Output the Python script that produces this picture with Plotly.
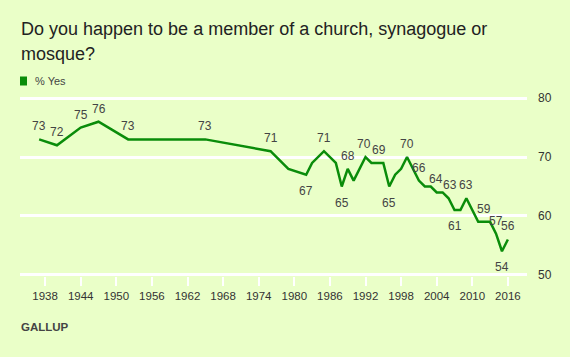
import plotly.graph_objects as go

years = [1937, 1940, 1944, 1947, 1952, 1965, 1976, 1979, 1982, 1983, 1985, 1987,
         1988, 1989, 1990, 1992, 1993, 1994, 1995, 1996, 1997, 1998, 1999, 2001,
         2002, 2003, 2004, 2005, 2006, 2007, 2008, 2009, 2011, 2012, 2013, 2014,
         2015, 2016]
values = [73, 72, 75, 76, 73, 73, 71, 68, 67, 69, 71, 69,
          65, 68, 66, 70, 69, 69, 69, 65, 67, 68, 70, 66,
          65, 65, 64, 64, 63, 61, 61, 63, 59, 59, 59, 57,
          54, 56]
# which points carry a value label, and whether it sits above or below the line
labeled = {1937: "above", 1940: "above", 1944: "above", 1947: "above",
           1952: "above", 1965: "above", 1976: "above", 1982: "below",
           1985: "above", 1988: "below", 1989: "above", 1992: "above",
           1994: "above", 1996: "below", 1999: "above", 2001: "above",
           2004: "above", 2006: "above", 2007: "below", 2009: "above",
           2012: "above", 2014: "above", 2015: "below", 2016: "above"}
label_nudge = {1992: -1.5, 1994: 1.5, 2004: -1, 2006: 1}
tick_years = list(range(1938, 2017, 6))
y_ticks = [50, 60, 70, 80]

title_lines = ["Do you happen to be a member of a church, synagogue or", "mosque?"]
series_name = "% Yes"
source = "GALLUP"

green = "#0a8c0a"
bg = "#EAFFC8"
FONT = "Liberation Sans, Arial, sans-serif"

W, H = 570, 357
L, R, T, B = 20, 43, 97, 81
pw, ph = W - L - R, H - T - B


def px(x):
    return (x - L) / pw


def py(y):
    return (H - B - y) / ph


fig = go.Figure()
fig.add_trace(go.Scatter(
    x=years, y=values, mode="lines",
    line=dict(color=green, width=2.5), cliponaxis=False, hoverinfo="x+y",
    showlegend=False, name=series_name))

for yr, v in zip(years, values):
    if yr in labeled:
        fig.add_annotation(x=yr, y=v, xref="x", yref="y", text=str(v), showarrow=False,
                           yshift=13 if labeled[yr] == "above" else -16,
                           xshift=label_nudge.get(yr, 0),
                           xanchor="center", yanchor="middle",
                           font=dict(family=FONT, size=12, color="#444444"))

fig.update_layout(
    width=W, height=H,
    paper_bgcolor=bg, plot_bgcolor=bg,
    margin=dict(l=L, r=R, t=T, b=B),
    font=dict(family=FONT, color="#333333"),
    showlegend=False,
)

fig.update_xaxes(range=[1933.77, 2019.22], tickvals=tick_years, showgrid=False,
                 zeroline=False, ticks="outside", ticklen=9, tickwidth=2, tickcolor="white",
                 tickfont=dict(size=11.5, color="#333333"), showline=False, fixedrange=True)
fig.update_yaxes(range=[49.8, 80.2], tickvals=y_ticks, side="right", showgrid=True,
                 gridcolor="white", gridwidth=3, zeroline=False, ticks="",
                 ticklabelstandoff=10, tickfont=dict(size=12, color="#333333"),
                 showline=False, fixedrange=True)

# title
for line, yc in zip(title_lines, [29, 54.5]):
    fig.add_annotation(text=line, xref="paper", yref="paper", x=px(19), y=py(yc),
                       xanchor="left", yanchor="middle", showarrow=False,
                       font=dict(size=18, color="#222222"))

# legend swatch
fig.add_shape(type="rect", xref="paper", yref="paper",
              x0=px(20), x1=px(27), y0=py(85.5), y1=py(76.5),
              fillcolor=green, line=dict(width=0))
fig.add_annotation(text=series_name, xref="paper", yref="paper", x=px(33),
                   y=py(81), xanchor="left", yanchor="middle", showarrow=False,
                   font=dict(size=11, color="#444444"))
fig.add_annotation(text=source, xref="paper", yref="paper", x=px(19),
                   y=py(327), xanchor="left", yanchor="middle", showarrow=False,
                   font=dict(size=11.5, color="#444444", weight="bold"))

fig.write_html("out.html", config={"displayModeBar": False},
               post_script="document.body.style.margin='0';")
